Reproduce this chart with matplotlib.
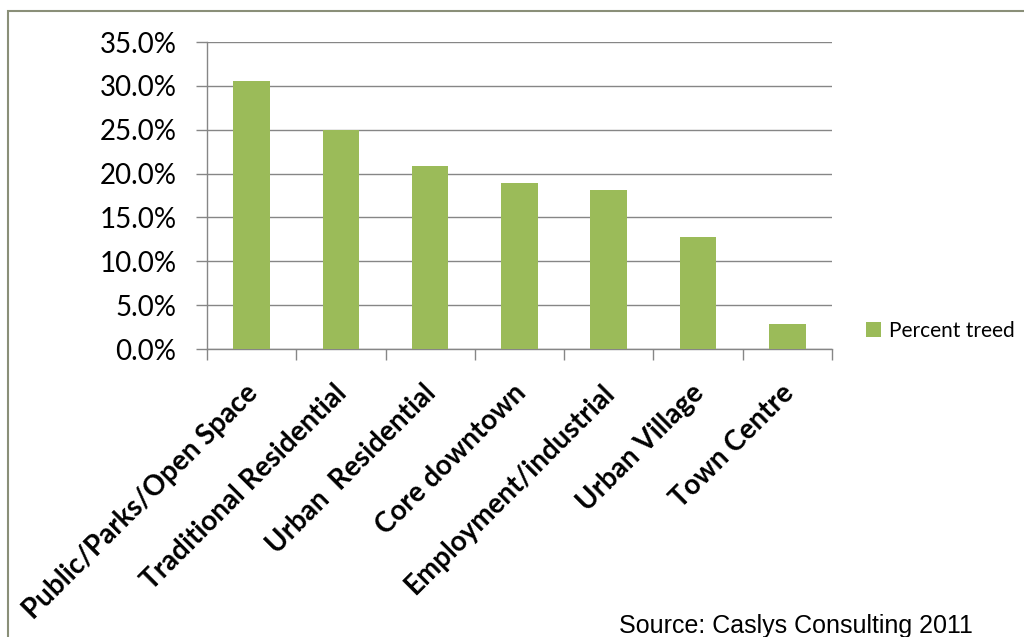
"""Percent treed by land-use category (bar chart, Excel style)."""
import matplotlib
matplotlib.use("Agg")
import matplotlib.pyplot as plt
from matplotlib.patches import Rectangle
from matplotlib.ticker import FuncFormatter

categories = [
    "Public/Parks/Open Space",
    "Traditional Residential",
    "Urban  Residential",
    "Core downtown",
    "Employment/industrial",
    "Urban Village",
    "Town Centre",
]
percent_treed = [30.6, 25.0, 20.9, 18.9, 18.1, 12.8, 2.8]
yticks = [0, 5, 10, 15, 20, 25, 30, 35]

BAR = "#9BBB59"
GRID = "#868686"

fig = plt.figure(figsize=(10.24, 6.37), dpi=100)
ax = fig.add_axes([0.2021, 0.4521, 0.6104, 0.4819])

x = list(range(len(categories)))
ax.bar(x, percent_treed, width=0.41, color=BAR, label="Percent treed", zorder=3)

ax.set_xlim(-0.5, len(categories) - 0.5)
ax.set_ylim(0, 35)
ax.set_yticks(yticks)
ax.yaxis.set_major_formatter(FuncFormatter(lambda v, _: f"{v:.1f}%"))
ax.grid(axis="y", color=GRID, lw=1.0, zorder=0)

# category boundaries get the tick marks, labels sit at the centres
ax.set_xticks([i - 0.5 for i in range(len(categories) + 1)])
ax.set_xticklabels([])
ax.set_xticks([i - 0.08 for i in x], minor=True)
ax.set_xticklabels(categories, minor=True, rotation=45, ha="right",
                   rotation_mode="anchor", fontsize=20, fontweight="bold",
                   family="Lato")
ax.tick_params(axis="x", which="major", length=8, color=GRID, width=1)
ax.tick_params(axis="x", which="minor", length=0, pad=22)
ax.tick_params(axis="y", length=8, color=GRID, width=1, pad=14, labelsize=20)
for lab in ax.get_yticklabels():
    lab.set_family("Lato")

for side in ("top", "right"):
    ax.spines[side].set_visible(False)
for side in ("left", "bottom"):
    ax.spines[side].set_color(GRID)
    ax.spines[side].set_linewidth(1.0)

leg = ax.legend(loc="center left", bbox_to_anchor=(1.025, 0.06), frameon=False,
                handlelength=0.7, handleheight=0.7, handletextpad=0.4,
                prop={"family": "Lato", "size": 15})

# outer chart border (top and left visible)
fig.patches.append(Rectangle((8 / 1024, -0.1), 1.1, 1.1 - 11 / 637,
                             transform=fig.transFigure, fill=False,
                             edgecolor="#8a8f78", lw=1.5))

fig.text(619 / 1024, 1 - 614 / 637, "Source: Caslys Consulting 2011",
         family="Liberation Sans", fontsize=18, va="top", ha="left")

fig.savefig("out.png", dpi=100)
